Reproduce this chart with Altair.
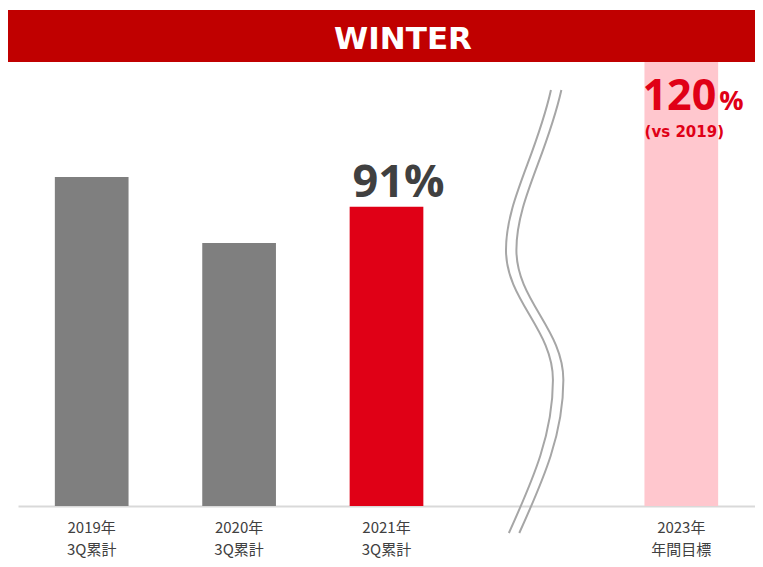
import altair as alt
import pandas as pd

# ---- data ----
categories = ["2019年\n3Q累計", "2020年\n3Q累計", "2021年\n3Q累計", "", "2023年\n年間目標"]
actual_cats = ["2019年\n3Q累計", "2020年\n3Q累計", "2021年\n3Q累計"]
actual_values = [100, 80, 91]
actual_colors = ["#7F7F7F", "#7F7F7F", "#E00016"]
highlight_cat = "2021年\n3Q累計"
target_cat = "2023年\n年間目標"
target_value = 120
target_note = "(vs 2019)"
break_cat = ""
title_text = "WINTER"

df_actual = pd.DataFrame({"cat": actual_cats, "value": actual_values, "color": actual_colors})
df_target = pd.DataFrame({"cat": [target_cat], "value": [target_value], "note": [target_note]})
df_break = pd.DataFrame({"cat": [break_cat]})
df_title = pd.DataFrame({"title": [title_text]})

LATIN = "DejaVu Sans"
NUM = "Open Sans"
CJK = "Noto Sans CJK JP"
RED_TXT = "#E00016"

xscale = alt.Scale(domain=categories, paddingInner=0.5, paddingOuter=0.25)
xaxis = alt.Axis(
    title=None, ticks=False, tickSize=0, domainColor="#D9D9D9", domainWidth=2,
    labelFont=CJK, labelFontSize=15, labelColor="#404040", labelAngle=0,
    labelBaseline="top", labelPadding=14, labelLineHeight=22,
    labelExpr="split(datum.label, '\\n')", grid=False,
)
X = alt.X("cat:N", scale=xscale, sort=categories, axis=xaxis)

# banner
banner = alt.Chart(df_title).mark_rect(color="#C00000").encode(
    x=alt.value(-10), x2=alt.value(800), y=alt.value(-52), y2=alt.value(0)
)
banner_text = alt.Chart(df_title).mark_text(
    font=LATIN, fontWeight="bold", fontSize=31, color="white",
    align="center", baseline="alphabetic"
).encode(text="title:N", x=alt.value(385), y=alt.value(-13))

# actual bars
ya = alt.Y("value:Q", scale=alt.Scale(domain=[0, 135]), axis=None)
bars = alt.Chart(df_actual).mark_bar().encode(
    x=X, y=ya, color=alt.Color("color:N", scale=None)
)
hl_text = alt.Chart(df_actual).transform_filter(
    alt.datum.cat == highlight_cat
).transform_calculate(
    label="datum.value + '%'"
).mark_text(
    font=NUM, fontWeight="bold", fontSize=45, color="#404040",
    align="center", baseline="alphabetic", dx=12, dy=-10
).encode(x=X, y=ya, text="label:N")
actual_group = alt.layer(bars, hl_text)

# target bar (broken axis: own scale)
yt = alt.Y("value:Q", scale=alt.Scale(domain=[0, 120]), axis=None)
tbar = alt.Chart(df_target).mark_bar(color="#FFC7CE").encode(x=X, y=yt)
t_num = alt.Chart(df_target).mark_text(
    font=NUM, fontWeight="bold", fontSize=43, color=RED_TXT,
    align="right", baseline="alphabetic", dx=35, dy=48
).encode(x=X, y=yt, text="value:N")
t_pct = alt.Chart(df_target).transform_calculate(p="'%'").mark_text(
    font=NUM, fontWeight="bold", fontSize=27, color=RED_TXT,
    align="left", baseline="alphabetic", dx=38, dy=48
).encode(x=X, y=yt, text="p:N")
t_note = alt.Chart(df_target).mark_text(
    font=LATIN, fontWeight="bold", fontSize=15, color=RED_TXT,
    align="center", baseline="alphabetic", dx=3, dy=75
).encode(x=X, y=yt, text="note:N")
target_group = alt.layer(tbar, t_num, t_pct, t_note)

# axis-break squiggle (decorative symbol)
squiggle_path = (
    "M 0.077 -1 C 0.01 -0.7 -0.126 -0.5 -0.126 -0.278 "
    "C -0.126 -0.05 0.086 0.08 0.086 0.309 "
    "C 0.086 0.55 0.0 0.75 -0.113 1 "
    "M 0.124 -1 C 0.057 -0.7 -0.079 -0.5 -0.079 -0.278 "
    "C -0.079 -0.05 0.133 0.08 0.133 0.309 "
    "C 0.133 0.55 0.047 0.75 -0.066 1"
)
squiggle = alt.Chart(df_break).mark_point(
    shape=squiggle_path, filled=False, stroke="#A6A6A6", strokeWidth=2,
    opacity=1, dx=5
).encode(x=X, y=alt.value(249.5), size=alt.value(196249))

chart = alt.layer(banner, banner_text, actual_group, target_group, squiggle).resolve_scale(
    y="independent"
).properties(
    width=737, height=444,
    padding={"left": 10, "top": 54, "right": 0, "bottom": 53},
    autosize=alt.AutoSizeParams(type="none"),
).configure_view(stroke=None)

chart.save("out.html", embed_options={"renderer": "svg", "actions": False})
